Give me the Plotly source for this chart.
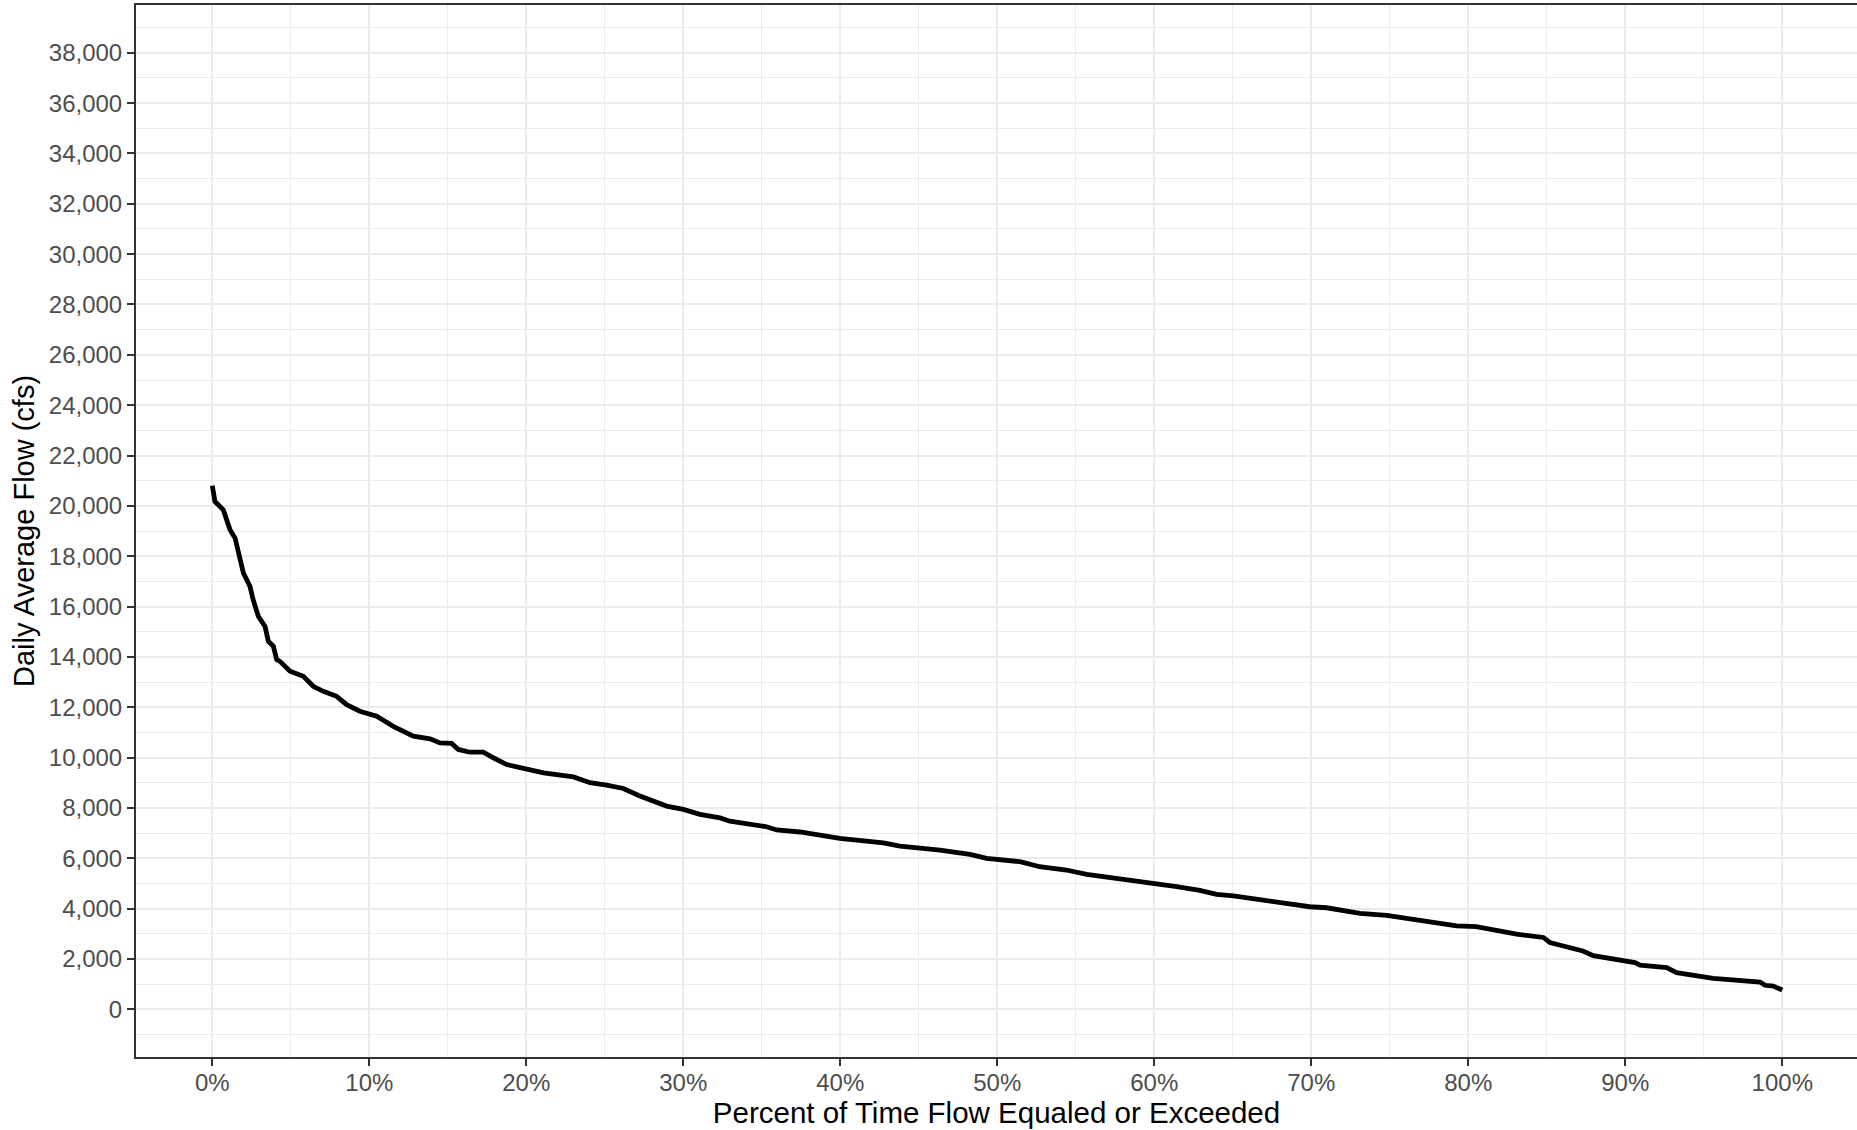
import plotly.graph_objects as go

# Flow duration curve: exceedance percent vs. daily average flow (cfs)
exceed_pct = [
    0.0, 0.17, 0.7, 1.13, 1.45, 1.76, 1.98, 2.4, 2.6, 2.93,
    3.36, 3.57, 3.89, 4.1, 4.31, 4.95, 5.8, 6.43, 7.07, 7.92,
    8.56, 9.4, 10.47, 11.53, 12.8, 13.87, 14.5, 15.25, 15.67, 16.4,
    17.26, 17.9, 18.75, 19.4, 20.45, 21.1, 23.0, 24.06, 25.12, 26.18,
    27.24, 28.09, 28.94, 30.0, 31.06, 32.34, 32.97, 35.3, 35.95, 37.43,
    38.7, 39.97, 42.74, 43.8, 46.35, 48.26, 49.32, 51.45, 52.7, 54.4,
    55.7, 58.66, 59.94, 61.43, 62.9, 63.97, 65.03, 67.16, 68.2, 69.9,
    70.98, 73.1, 74.8, 77.77, 79.26, 80.5, 82.45, 83.08, 84.78, 85.2,
    86.05, 87.3, 87.96, 89.66, 90.62, 90.94, 92.64, 93.27, 94.97, 95.6,
    98.58, 98.9, 99.43, 100.0,
]
flow_cfs = [
    20800, 20170, 19840, 19050, 18720, 17990, 17330, 16800, 16270, 15610,
    15210, 14620, 14420, 13890, 13820, 13430, 13230, 12830, 12630, 12430,
    12100, 11840, 11640, 11240, 10850, 10740, 10580, 10560, 10320, 10210,
    10210, 9990, 9720, 9630, 9500, 9390, 9230, 9000, 8900, 8770,
    8470, 8270, 8070, 7940, 7740, 7600, 7470, 7250, 7120, 7040,
    6920, 6790, 6610, 6480, 6320, 6150, 5990, 5860, 5660, 5530,
    5360, 5130, 5030, 4870, 4720, 4560, 4500, 4300, 4200, 4070,
    4030, 3810, 3730, 3470, 3310, 3280, 3070, 2980, 2850, 2650,
    2510, 2310, 2130, 1980, 1850, 1750, 1650, 1450, 1300, 1220,
    1080, 950, 920, 760,
]

x_ticks = list(range(0, 101, 10))
y_ticks = list(range(0, 38001, 2000))

FONT = "Liberation Sans, Arial, sans-serif"
GRID = "#EBEBEB"
AXIS = "#333333"

fig = go.Figure(
    go.Scatter(
        x=exceed_pct,
        y=flow_cfs,
        mode="lines",
        line=dict(color="black", width=4.8),
        hoverinfo="skip",
        showlegend=False,
    )
)

fig.update_layout(
    width=1857,
    height=1130,
    margin=dict(l=136, r=0, t=5, b=73),
    paper_bgcolor="white",
    plot_bgcolor="white",
    font=dict(family=FONT, color="black"),
    xaxis=dict(
        range=[-4.86, 104.76],
        tickvals=x_ticks,
        ticktext=[f"{v}%" for v in x_ticks],
        tickfont=dict(size=24, color="#4D4D4D", family=FONT),
        ticks="outside",
        ticklen=7,
        tickwidth=2,
        tickcolor=AXIS,
        ticklabelstandoff=-4,
        showline=True,
        linecolor=AXIS,
        linewidth=2,
        mirror=True,
        showgrid=True,
        gridcolor=GRID,
        gridwidth=2,
        minor=dict(tick0=5, dtick=10, showgrid=True, gridcolor=GRID, gridwidth=1.2, ticks=""),
        zeroline=False,
        title=dict(
            text="Percent of Time Flow Equaled or Exceeded",
            font=dict(size=29.5, color="black", family=FONT),
            standoff=5,
        ),
    ),
    yaxis=dict(
        range=[-1900, 39900],
        tickvals=y_ticks,
        ticktext=[f"{v:,}" for v in y_ticks],
        tickfont=dict(size=24, color="#4D4D4D", family=FONT),
        ticks="outside",
        ticklen=7,
        tickwidth=2,
        tickcolor=AXIS,
        showline=True,
        linecolor=AXIS,
        linewidth=2,
        showgrid=True,
        gridcolor=GRID,
        gridwidth=2,
        minor=dict(tick0=1000, dtick=2000, showgrid=True, gridcolor=GRID, gridwidth=1.2, ticks=""),
        zeroline=False,
        title=dict(
            text="Daily Average Flow (cfs)",
            font=dict(size=29, color="black", family=FONT),
            standoff=6,
        ),
    ),
)

fig.write_html("out.html")
